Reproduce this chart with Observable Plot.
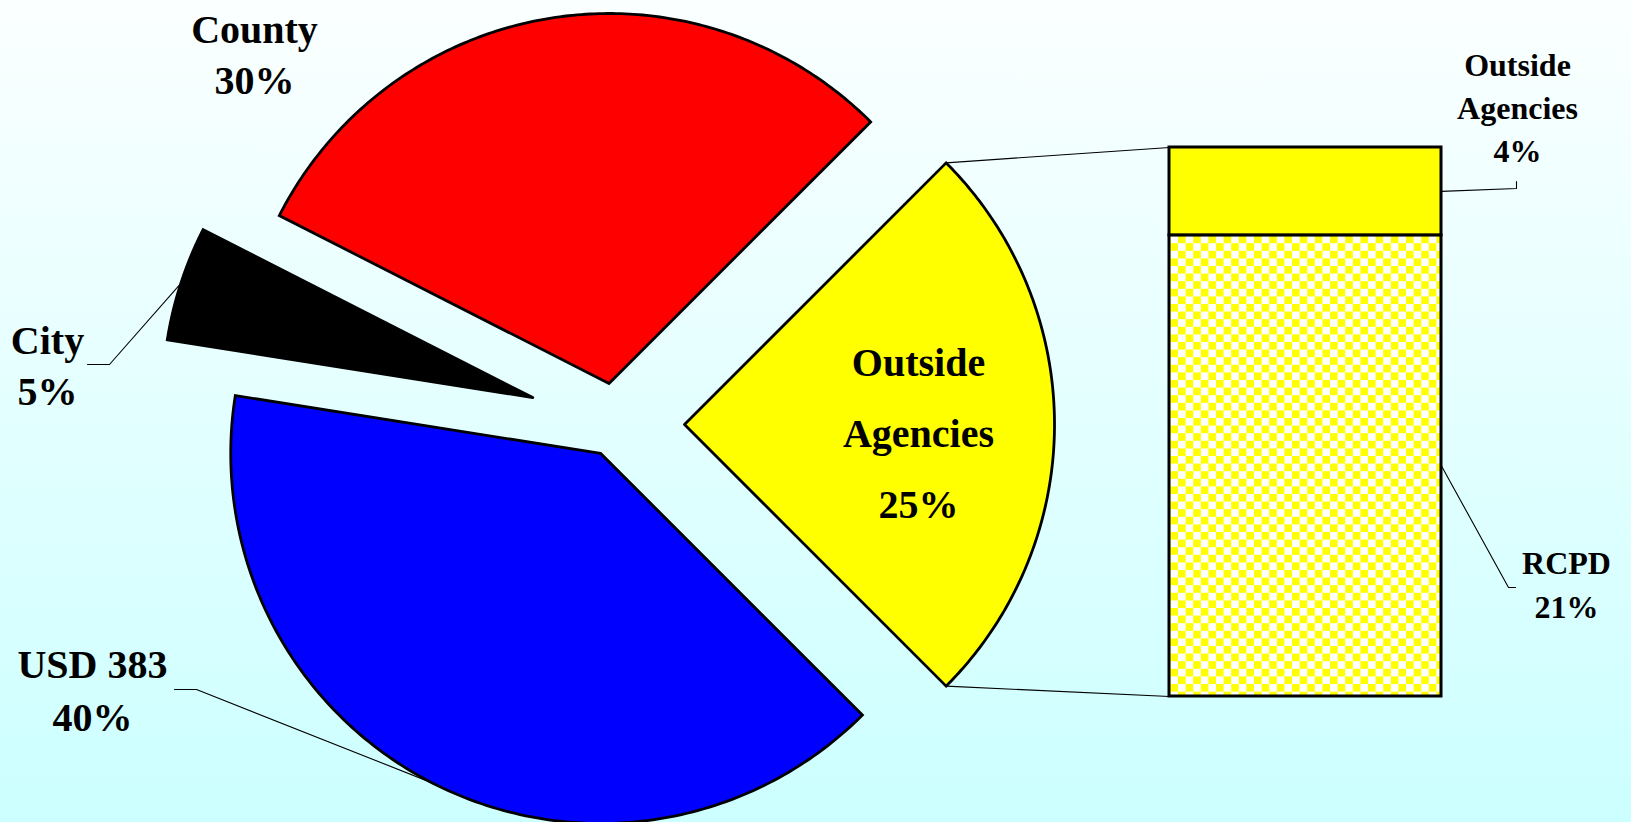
<!DOCTYPE html>
<html>
<head>
<meta charset="utf-8">
<script src="https://cdn.jsdelivr.net/npm/d3@7"></script>
<script src="https://cdn.jsdelivr.net/npm/@observablehq/plot@0.6"></script>
<style>
html, body { margin: 0; padding: 0; }
body { width: 1631px; height: 822px; overflow: hidden;
  background: linear-gradient(to bottom, #fbffff 0%, #ccffff 100%); }
#chart svg { display: block; }
</style>
</head>
<body>
<div id="chart"></div>
<script>
// ---------- DATA ----------
const pieCategories = ["Outside Agencies", "USD 383", "City", "County"];
const pieValues = [25, 40, 5, 30];
const barCategories = ["RCPD", "Outside Agencies"];
const barValues = [21, 4];

// ---------- STYLE / LAYOUT ----------
const W = 1631, H = 822;
const pieColors = ["#ffff00", "#0000ff", "#000000", "#ff0000"];
const barFills = ["url(#checker)", "#ffff00"];
const CX = 615, CY = 424, R = 370;           // pie centre and radius (px)
const explode = [69, 32.5, 87, 41.5];        // explosion distance of each slice (px)
const START = Math.PI / 4;                   // first slice starts at 45deg
const BAR = {x1: 1169, x2: 1441, top: 147, bottom: 696};
const FONT = "'Liberation Serif', 'Times New Roman', Times, serif";

// label layout: x centre, baseline of last line, line height (em), font size
const pieLabelLayout = [
  {x: 918, y: 517, lh: 1.775, size: 40, split: true},  // Outside Agencies (inside)
  {x: 92,  y: 730, lh: 1.325, size: 40, split: false}, // USD 383
  {x: 47,  y: 404, lh: 1.275, size: 40, split: false}, // City
  {x: 254, y: 93,  lh: 1.275, size: 40, split: false}  // County
];
const barLabelLayout = [
  {x: 1566, y: 617, lh: 1.375, size: 32},   // RCPD
  {x: 1517, y: 161, lh: 1.34,  size: 32}    // Outside Agencies
];
// leader elbows: [elbow, end]
const pieLeaders = {2: [[109, 364], [87, 364]], 1: [[196, 689], [174, 689]]};
const barLeaders = {0: [[1508, 587], [1515, 587]], 1: [[1516, 188], [1516, 181]]};

// ---------- GEOMETRY FROM DATA ----------
const arcs = d3.pie().sort(null).startAngle(START).endAngle(START + 2 * Math.PI)(pieValues);
const slices = arcs.map((a, i) => {
  const mid = (a.startAngle + a.endAngle) / 2;
  const ox = CX + explode[i] * Math.sin(mid), oy = CY - explode[i] * Math.cos(mid);
  const at = t => ({x: ox + R * Math.sin(t), y: oy - R * Math.cos(t)});
  const pts = [{x: ox, y: oy}];
  const n = 160;
  for (let k = 0; k <= n; k++) pts.push(at(a.startAngle + (a.endAngle - a.startAngle) * k / n));
  pts.push({x: ox, y: oy});
  return {name: pieCategories[i], pts, start: at(a.startAngle), end: at(a.endAngle), mid: at(mid)};
});
const slicePts = slices.flatMap(s => s.pts.map(p => ({...p, name: s.name})));

const barTotal = d3.sum(barValues);
const barY = d3.scaleLinear().domain([0, barTotal]).range([BAR.bottom, BAR.top]);
const cum = d3.cumsum(barValues);
const barRows = barValues.map((v, i) => ({
  name: barCategories[i], value: v,
  y1: barY(cum[i] - v), y2: barY(cum[i]), fill: barFills[i]
}));

const split = slices[pieCategories.indexOf("Outside Agencies")];
const connectors = [
  {x1: split.start.x, y1: split.start.y, x2: BAR.x1, y2: barY(barTotal)},
  {x1: split.end.x, y1: split.end.y, x2: BAR.x1, y2: barY(0)}
];

const leaderPts = [];
Object.entries(pieLeaders).forEach(([i, pts]) => {
  const s = slices[+i];
  [[s.mid.x, s.mid.y], ...pts].forEach(([x, y]) => leaderPts.push({x, y, id: "p" + i}));
});
Object.entries(barLeaders).forEach(([i, pts]) => {
  const r = barRows[+i];
  [[BAR.x2, (r.y1 + r.y2) / 2], ...pts].forEach(([x, y]) => leaderPts.push({x, y, id: "b" + i}));
});

const labels = [
  ...pieCategories.map((c, i) => ({
    text: (pieLabelLayout[i].split ? c.replace(" ", "\n") : c) + "\n" + pieValues[i] + "%",
    ...pieLabelLayout[i]
  })),
  ...barCategories.map((c, i) => ({
    text: c.replace(" ", "\n") + "\n" + barValues[i] + "%",
    ...barLabelLayout[i]
  }))
];

// ---------- PLOT ----------
const plot = Plot.plot({
  width: W, height: H, margin: 0,
  x: {domain: [0, W], range: [0, W], axis: null},
  y: {domain: [0, H], range: [0, H], axis: null},
  color: {domain: pieCategories, range: pieColors},
  style: {background: "transparent", overflow: "visible"},
  marks: [
    Plot.link(connectors, {x1: "x1", y1: "y1", x2: "x2", y2: "y2", stroke: "#000", strokeWidth: 1.1}),
    Plot.line(slicePts, {x: "x", y: "y", z: "name", fill: "name", stroke: "#000",
      strokeWidth: 2.8, strokeLinejoin: "miter", strokeMiterlimit: 4, curve: "linear"}),
    ...barRows.map(r => Plot.rect([r], {x1: () => BAR.x1, x2: () => BAR.x2, y1: "y1", y2: "y2",
      fill: r.fill, stroke: "#000", strokeWidth: 3})),
    Plot.line(leaderPts, {x: "x", y: "y", z: "id", stroke: "#000", strokeWidth: 1.1,
      strokeLinejoin: "miter", curve: "linear"}),
    ...labels.map(l => Plot.text([l], {x: () => l.x, y: () => l.y, text: "text",
      lineAnchor: "bottom", lineHeight: l.lh, textAnchor: "middle",
      fontSize: l.size, fontWeight: "bold", fontFamily: FONT, fill: "#000"}))
  ]
});

// checker pattern for the RCPD segment
const svg = d3.select(plot);
const P = 15.2, h = P / 2;
const pat = svg.insert("defs", ":first-child").append("pattern")
  .attr("id", "checker").attr("patternUnits", "userSpaceOnUse")
  .attr("width", P).attr("height", P);
pat.append("rect").attr("width", P).attr("height", P).attr("fill", "#ffffff");
pat.append("rect").attr("width", h).attr("height", h).attr("fill", "#ffff00");
pat.append("rect").attr("x", h).attr("y", h).attr("width", h).attr("height", h).attr("fill", "#ffff00");

document.getElementById("chart").appendChild(plot);
</script>
</body>
</html>
